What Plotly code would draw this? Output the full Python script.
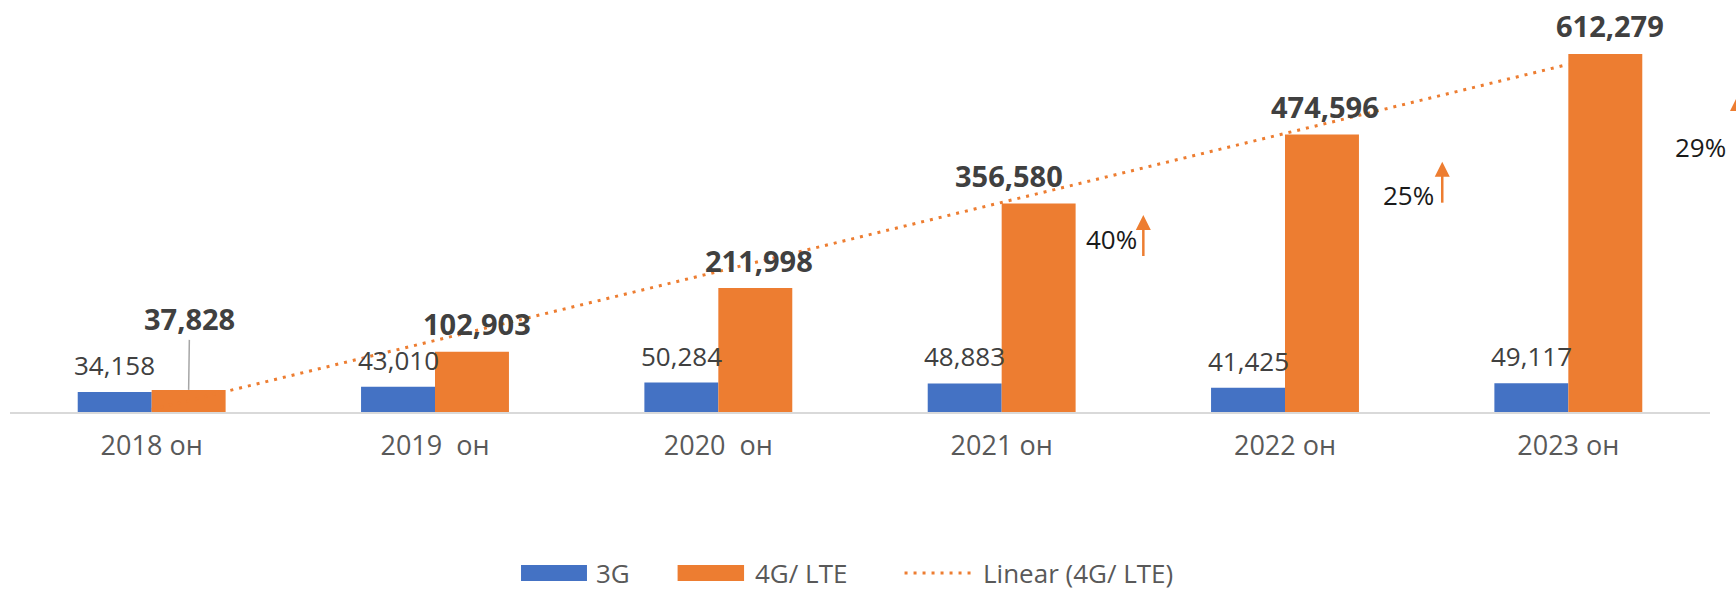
import numpy as np
import plotly.graph_objects as go

# data
years = ["2018 он", "2019\u00a0 он", "2020\u00a0 он", "2021 он", "2022 он", "2023 он"]
g3 = [34158, 43010, 50284, 48883, 41425, 49117]
g4 = [37828, 102903, 211998, 356580, 474596, 612279]

growth_text = ["40%", "25%", "29%"]
growth_text_x = [3.387, 4.437, 5.465]
growth_text_y = [296700, 371100, 453700]
growth_arrow_x = [3.5, 4.555, 5.597]
growth_arrow_y = [336900, 428100, 540400]

BLUE = "#4472C4"
ORANGE = "#ED7D31"
FONT = "Open Sans"
BARGAP = 0.478
Y_MAX = 687500
PLOT_W, PLOT_H = 1700, 402   # plot area in px

x = np.arange(len(years))
slope, icpt = np.polyfit(x, g4, 1)

fig = go.Figure()
fig.add_bar(x=x, y=g3, name="3G", marker=dict(color=BLUE, line_width=0))
fig.add_bar(x=x, y=g4, name="4G/ LTE", marker=dict(color=ORANGE, line_width=0))
fig.add_scatter(x=x, y=slope * x + icpt, mode="lines", name="Linear (4G/ LTE)",
                line=dict(color=ORANGE, width=3, dash="3px,6px"))

off = (1 - BARGAP) / 4

# 3G labels
for i, v in enumerate(g3):
    fig.add_annotation(x=i - off, y=v, text=f"{v:,}", showarrow=False, yshift=27,
                       font=dict(family=FONT, size=26, color="#404040"))

# 4G labels (bold), first one lifted with a leader line
label_dx = [0, 5, 4, -30, 3, 5]
for i, v in enumerate(g4):
    if i == 0:
        fig.add_annotation(x=i + off, y=v, text=f"<b>{v:,}</b>", showarrow=True,
                           arrowhead=0, arrowwidth=1.5, arrowcolor="#a6a6a6",
                           ax=1, ay=-71, font=dict(family=FONT, size=29, color="#404040"))
    else:
        fig.add_annotation(x=i + off, y=v, text=f"<b>{v:,}</b>", showarrow=False,
                           yshift=28, xshift=label_dx[i],
                           font=dict(family=FONT, size=29, color="#404040"))

# growth arrows (shapes, so the last one can run off the right edge)
px_x = 1 / PLOT_W
px_y = Y_MAX / PLOT_H
for ax_, tip in zip(growth_arrow_x, growth_arrow_y):
    xp = (ax_ + 0.5) / 6
    base = tip - 15 * px_y
    fig.add_shape(type="line", xref="paper", yref="y", x0=xp, x1=xp,
                  y0=tip - 41 * px_y, y1=base + 2 * px_y,
                  line=dict(color=ORANGE, width=2.5))
    fig.add_shape(type="path", xref="paper", yref="y",
                  path=f"M {xp - 7.5 * px_x},{base} L {xp + 7.5 * px_x},{base} L {xp},{tip} Z",
                  fillcolor=ORANGE, line_width=0)
for t, tx, ty in zip(growth_text, growth_text_x, growth_text_y):
    fig.add_annotation(x=tx, y=ty, text=t, showarrow=False,
                       font=dict(family=FONT, size=26, color="#1a1a1a"))

# legend drawn by hand (wide swatches like the original)
ly0, ly1, lyc = -0.4204, -0.3806, -0.4005
fig.add_shape(type="rect", xref="paper", yref="paper", x0=0.3006, x1=0.3394,
              y0=ly0, y1=ly1, fillcolor=BLUE, line_width=0)
fig.add_shape(type="rect", xref="paper", yref="paper", x0=0.3927, x1=0.4318,
              y0=ly0, y1=ly1, fillcolor=ORANGE, line_width=0)
fig.add_shape(type="line", xref="paper", yref="paper", x0=0.5262, x1=0.5659,
              y0=lyc, y1=lyc, line=dict(color=ORANGE, width=3, dash="3px,6px"))
for lx, txt in [(0.3435, "3G"), (0.437, "4G/ LTE"), (0.5712, "Linear (4G/ LTE)")]:
    fig.add_annotation(x=lx, y=lyc, xref="paper", yref="paper", text=txt,
                       showarrow=False, xanchor="left", yanchor="middle",
                       font=dict(family=FONT, size=26, color="#595959"))

fig.update_layout(
    width=1736, height=591,
    margin=dict(l=10, r=26, t=10, b=179),
    plot_bgcolor="white", paper_bgcolor="white",
    barmode="group", bargap=BARGAP, bargroupgap=0,
    showlegend=False,
    font=dict(family=FONT, color="#595959"),
)
fig.update_xaxes(range=[-0.5, 5.5], tickvals=x, ticktext=years,
                 showline=True, linecolor="#d9d9d9", linewidth=2,
                 showgrid=False, zeroline=False, ticks="",
                 tickfont=dict(family=FONT, size=27, color="#595959"),
                 ticklabelstandoff=9)
fig.update_yaxes(range=[0, Y_MAX], visible=False)

# drop the default 8px body margin so the figure fills the window exactly
fig.write_html("out.html", config={"displayModeBar": False},
               post_script="document.body.style.margin='0';")
